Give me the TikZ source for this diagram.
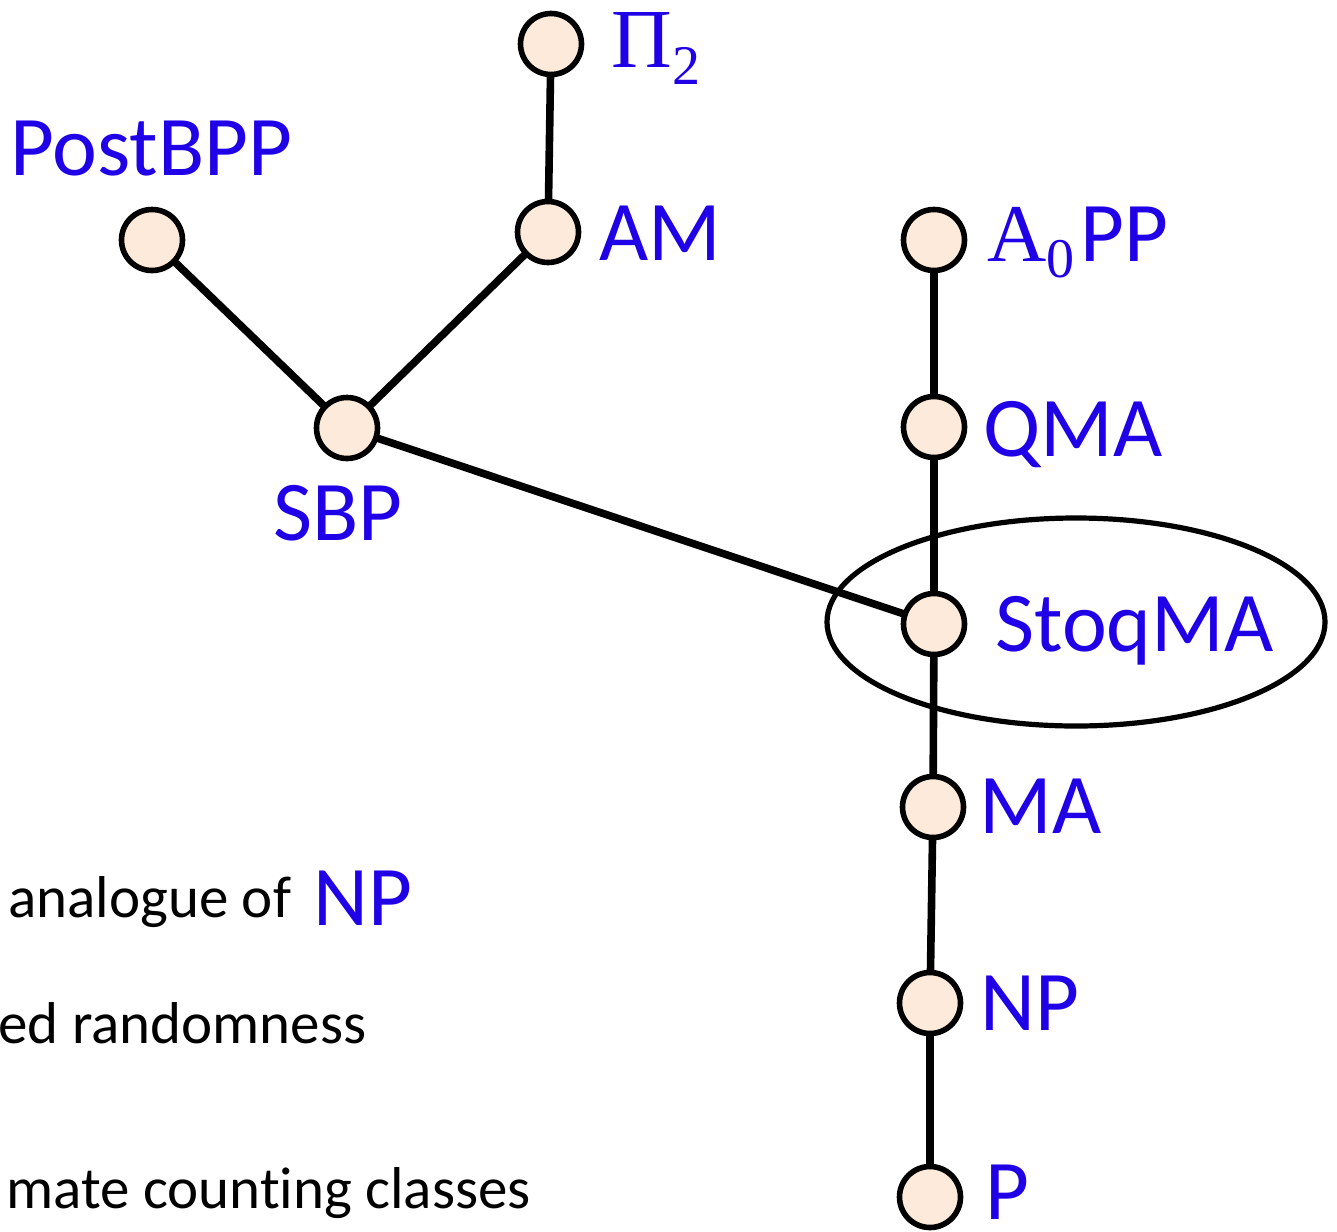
\documentclass[tikz,border=0pt]{standalone}
\usepackage{fontspec}
\setmainfont{Carlito}
\newfontfamily\mathlike{Liberation Serif}
\newfontfamily\notefont{Carlito}[Ligatures=NoCommon]
\usetikzlibrary{backgrounds}
\definecolor{classblue}{RGB}{32,0,230}
\definecolor{peach}{RGB}{253,234,218}

\begin{document}
\begin{tikzpicture}[x=0.5pt,y=-0.5pt,
  cls/.style={circle,draw=black,fill=peach,line width=2.8pt,minimum size=30.5pt,inner sep=0pt},
  link/.style={line width=3.8pt,line cap=round},
  lbl/.style={text=classblue,font=\fontsize{42.5}{46}\selectfont,inner sep=0pt,anchor=base west},
  note/.style={text=black,font=\notefont\fontsize{29.5}{33}\selectfont,inner sep=0pt,anchor=base west}]
\useasboundingbox (0,0) rectangle (1337,1231);

% complexity classes
\node[cls] (pi2)     at (551,44)  {};
\node[cls] (postbpp) at (152,240) {};
\node[cls] (am)      at (548,232) {};
\node[cls] (sbp)     at (347,428) {};
\node[cls] (a0pp)    at (934,240) {};
\node[cls] (qma)     at (934,427) {};
\node[cls] (stoqma)  at (934,624) {};
\node[cls] (ma)      at (933,807) {};
\node[cls] (np)      at (930,1003) {};
\node[cls] (p)       at (930,1197) {};

% inclusions
\begin{pgfonlayer}{background}
  \draw[link] (pi2.center) -- (am.center);
  \draw[link] (postbpp.center) -- (sbp.center);
  \draw[link] (am.center) -- (sbp.center);
  \draw[link] (sbp.center) -- (stoqma.center);
  \draw[link] (a0pp.center) -- (qma.center);
  \draw[link] (qma.center) -- (stoqma.center);
  \draw[link] (stoqma.center) -- (ma.center);
  \draw[link] (ma.center) -- (np.center);
  \draw[link] (np.center) -- (p.center);
\end{pgfonlayer}

% highlight around StoqMA
\draw[line width=2.6pt] (1076,622) ellipse [x radius=249, y radius=104];

% class names
\node[lbl] (lpi)      at (611,67)  {{\mathlike\fontsize{42}{45}\selectfont Π}\raisebox{-9pt}{\mathlike\fontsize{28}{30}\selectfont 2}};
\node[lbl] (lpostbpp) at (10,175)  {PostBPP};
\node[lbl] (lam)      at (599,260) {AM};
\node[lbl] (la0pp)    at (987,261) {{\mathlike\fontsize{41}{45}\selectfont A}\raisebox{-8pt}{\mathlike\fontsize{28}{30}\selectfont 0}\hspace{3pt}PP};
\node[lbl] (lqma)     at (983,456) {QMA};
\node[lbl] (lsbp)     at (273,540) {SBP};
\node[lbl] (lstoq)    at (995,651) {StoqMA};
\node[lbl] (lma)      at (979,833) {MA};
\node[lbl] (lnp)      at (980,1030) {NP};
\node[lbl] (lp)       at (985,1219) {P};

% side notes
\node[note] (n1)   at (8,917)   {analogue of};
\node[lbl]  (n1np) at (313,925) {NP};
\node[note] (n2)   at (-2,1043) {ed randomness};
\node[note] (n3)   at (6,1208)  {mate counting classes};
\end{tikzpicture}
\end{document}
